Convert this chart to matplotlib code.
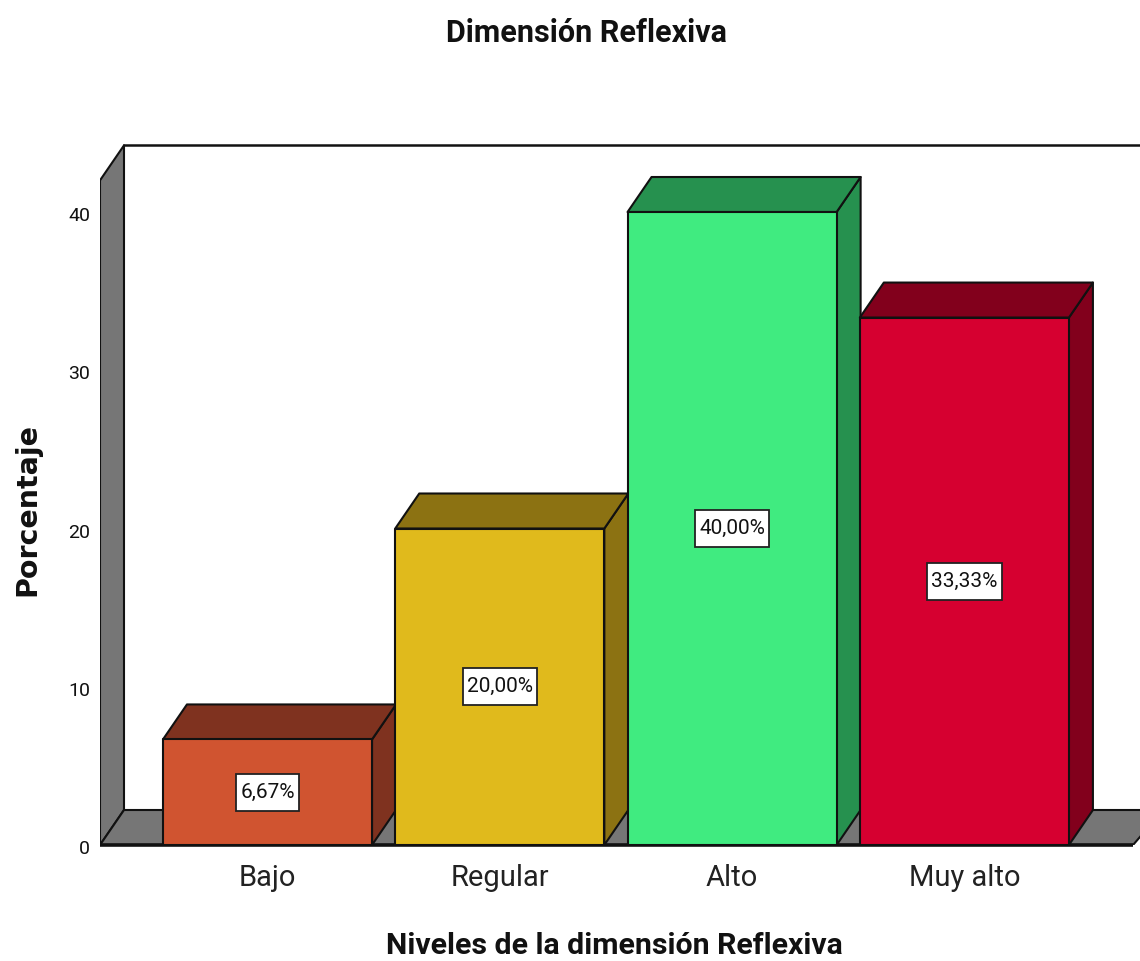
import matplotlib
matplotlib.use('Agg')
import matplotlib.pyplot as plt
from matplotlib.patches import Polygon, Rectangle
from matplotlib.transforms import offset_copy

# datos
niveles = ['Bajo', 'Regular', 'Alto', 'Muy alto']
porcentajes = [6.67, 20.00, 40.00, 33.33]
etiquetas = ['6,67%', '20,00%', '40,00%', '33,33%']
colores = ['#D05430', '#E0BA1C', '#40EB80', '#D60030']
colores_lado = ['#7F321F', '#8C7212', '#26914F', '#82001C']
ticks_y = [0, 10, 20, 30, 40]

W, H = 1140, 961
fuente = 'Roboto'

fig = plt.figure(figsize=(W / 100, H / 100), dpi=100)
ax = fig.add_axes([100 / W, 1 - 845 / H, 1040 / W, 705 / H])
ax.set_xlim(-0.721, 3.756)
ax.set_ylim(0, 44.55)
for s in ax.spines.values():
    s.set_visible(False)

# profundidad del efecto 3D
px_x = 232.3
px_y = 15.825
dx = 24 / px_x
dy = 35 / px_y
ancho = 0.9
x0, x1 = ax.get_xlim()
tope = 42.0
borde = dict(edgecolor='#111111', linewidth=1.5, joinstyle='round')

# pared y suelo
ax.add_patch(Polygon([(x0, 0), (x0 + dx, dy), (x0 + dx, tope + dy), (x0, tope)],
                     facecolor='#767676', zorder=1, **borde))
ax.add_patch(Polygon([(x0, 0), (x0 + dx, dy), (x1 + 0.1, dy), (x1 - 0.03, 0)],
                     facecolor='#767676', zorder=1, **borde))
ax.plot([x0 + dx, x1], [tope + dy, tope + dy], color='#111111', lw=1.8, zorder=1)
ax.plot([x0, x1 - 0.03], [0, 0], color='#111111', lw=2.6, zorder=2, solid_capstyle='butt', clip_on=False)

# barras
fig.canvas.draw()
rend = fig.canvas.get_renderer()
for i, v in enumerate(porcentajes):
    z = 3 + i
    l, r = i - ancho / 2, i + ancho / 2
    ax.add_patch(Polygon([(r, 0), (r + dx, dy), (r + dx, v + dy), (r, v)],
                         facecolor=colores_lado[i], zorder=z, **borde))
    ax.add_patch(Polygon([(l, v), (l + dx, v + dy), (r + dx, v + dy), (r, v)],
                         facecolor=colores_lado[i], zorder=z, **borde))
    ax.bar(i, v, width=ancho, color=colores[i], zorder=z, **borde)
    t = ax.text(i, v / 2, etiquetas[i], ha='center', va='center', fontsize=15, family=fuente,
                color='#111111', zorder=11)
    # caja blanca de la etiqueta
    w_box = (t.get_window_extent(rend).width + 8) / px_x
    h_box = 37 / px_y
    ax.add_patch(Rectangle((i - w_box / 2, v / 2 - h_box / 2), w_box, h_box, facecolor='white',
                           edgecolor='#222222', linewidth=1.3, zorder=10))

ax.set_xticks(range(4))
ax.set_xticklabels(niveles, fontsize=21, family=fuente, color='#222222')
ax.set_yticks(ticks_y)
ax.set_yticklabels([str(t) for t in ticks_y], fontsize=14, family=fuente, color='#111111')
ax.tick_params(length=0)
ax.tick_params(axis='x', pad=14)
ax.tick_params(axis='y', pad=7)
for lab in ax.get_yticklabels():
    lab.set_transform(offset_copy(lab.get_transform(), fig=fig, y=-2, units='dots'))

fig.text(586 / W, 1 - 33 / H, 'Dimensión Reflexiva', ha='center', va='center',
         fontsize=22, fontweight='bold', family=fuente, color='#111111')
fig.text(614 / W, 1 - 946 / H, 'Niveles de la dimensión Reflexiva', ha='center', va='center',
         fontsize=21.8, fontweight='bold', family=fuente, color='#111111')
fig.text(27 / W, 1 - 509 / H, 'Porcentaje', ha='center', va='center', rotation=90,
         fontsize=20.5, fontweight='bold', family='DejaVu Sans', color='#111111')

fig.savefig('out.png', dpi=100)
